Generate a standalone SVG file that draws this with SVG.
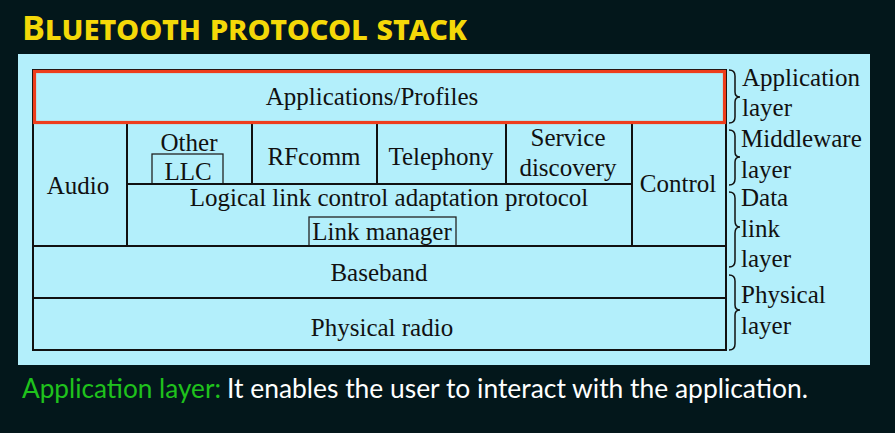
<svg xmlns="http://www.w3.org/2000/svg" width="895" height="433" viewBox="0 0 895 433">
<style>
.bg{fill:#03171b}
.panel{fill:#b3effb}
.cell{fill:#b3effb;stroke:#111;stroke-width:2}
.sub{fill:none;stroke:#222;stroke-width:1.3}
.app{fill:#b3effb;stroke:#ee3d1c;stroke-width:3.2}
.t{font-family:"Liberation Serif","Times New Roman",serif;font-size:25px;fill:#111;text-anchor:middle}
.side{font-family:"Liberation Serif","Times New Roman",serif;font-size:25px;fill:#111}
.brace{fill:none;stroke:#111;stroke-width:1.5}
.title{font-family:"Noto Sans","Open Sans",sans-serif;font-variant:small-caps;font-weight:bold;font-size:34px;fill:#f4d808}
.foot{font-family:"Lato","Noto Sans",sans-serif;font-size:26px}
</style>
<rect class="bg" x="0" y="0" width="895" height="433"/>
<text class="title" x="22" y="40" textLength="445" lengthAdjust="spacingAndGlyphs">Bluetooth protocol stack</text>
<rect class="panel" x="18" y="54" width="852" height="311"/>

<g id="outer"><rect class="cell" x="33" y="70" width="693" height="280"/></g>
<g id="audio"><rect class="cell" x="33" y="123" width="94" height="123"/><text class="t" x="78" y="194">Audio</text></g>
<g id="other-llc"><rect class="cell" x="127" y="123" width="125" height="61"/><text class="t" x="189" y="151">Other</text><rect class="sub" x="152" y="154" width="71" height="30"/><text class="t" x="188" y="180">LLC</text></g>
<g id="rfcomm"><rect class="cell" x="252" y="123" width="125" height="61"/><text class="t" x="314" y="165">RFcomm</text></g>
<g id="telephony"><rect class="cell" x="377" y="123" width="129" height="61"/><text class="t" x="441" y="165">Telephony</text></g>
<g id="service-discovery"><rect class="cell" x="506" y="123" width="126" height="61"/><text class="t" x="568" y="146">Service</text><text class="t" x="568" y="176">discovery</text></g>
<g id="control"><rect class="cell" x="632" y="123" width="94" height="123"/><text class="t" x="678" y="192">Control</text></g>
<g id="l2cap"><rect class="cell" x="127" y="184" width="505" height="62"/><text class="t" x="389" y="206">Logical link control adaptation protocol</text><rect class="sub" x="309" y="217" width="147" height="29"/><text class="t" x="382" y="240">Link manager</text></g>
<g id="baseband"><rect class="cell" x="33" y="246" width="693" height="52"/><text class="t" x="379" y="281">Baseband</text></g>
<g id="physical-radio"><rect class="cell" x="33" y="298" width="693" height="52"/><text class="t" x="382" y="336">Physical radio</text></g>
<g id="applications"><rect class="app" x="34.5" y="71.5" width="690" height="51"/><text class="t" x="372" y="105">Applications/Profiles</text></g>

<g id="braces">
<path class="brace" d="M729 70 Q735 70 735 76 L735 92 Q735 97 740 97 Q735 97 735 102 L735 117 Q735 123 729 123"/>
<path class="brace" d="M729 130 Q735 130 735 136 L735 152 Q735 157 740 157 Q735 157 735 162 L735 179 Q735 185 729 185"/>
<path class="brace" d="M729 192 Q735 192 735 198 L735 221 Q735 227 740 227 Q735 227 735 233 L735 261 Q735 267 729 267"/>
<path class="brace" d="M729 275 Q735 275 735 281 L735 305 Q735 310 740 310 Q735 310 735 315 L735 344 Q735 350 729 350"/>
</g>
<g id="layer-labels">
<text class="side" x="742" y="86">Application</text>
<text class="side" x="742" y="116">layer</text>
<text class="side" x="741" y="147">Middleware</text>
<text class="side" x="741" y="178">layer</text>
<text class="side" x="741" y="206">Data</text>
<text class="side" x="741" y="237">link</text>
<text class="side" x="741" y="267">layer</text>
<text class="side" x="741" y="303">Physical</text>
<text class="side" x="741" y="334">layer</text>
</g>
<text class="foot" x="22" y="398" fill="#1fc21c" textLength="199" lengthAdjust="spacingAndGlyphs">Application layer:</text>
<text class="foot" x="227" y="398" fill="#ffffff" textLength="581" lengthAdjust="spacingAndGlyphs">It enables the user to interact with the application.</text>
</svg>
